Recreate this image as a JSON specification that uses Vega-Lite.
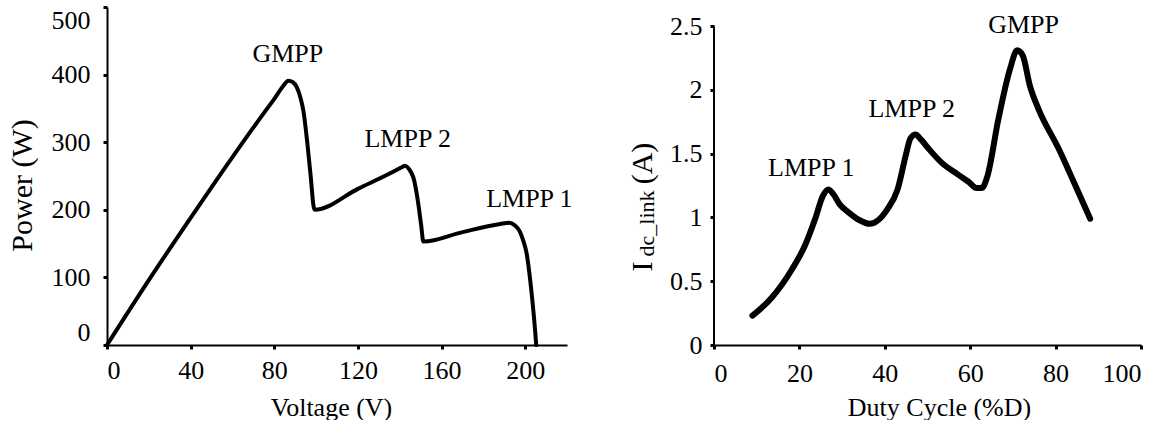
{
  "$schema": "https://vega.github.io/schema/vega-lite/v6.json",
  "padding": {"left": 7, "top": 5, "right": 5, "bottom": 0},
  "background": "white",
  "config": {
    "view": {"stroke": null},
    "font": "Liberation Serif",
    "axis": {
      "grid": false,
      "domainColor": "black",
      "domainWidth": 2,
      "tickColor": "black",
      "tickWidth": 3,
      "tickSize": 4,
      "labelColor": "black",
      "labelFont": "Liberation Serif",
      "labelFontSize": 26,
      "titleFont": "Liberation Serif",
      "titleFontWeight": "normal",
      "titleColor": "black",
      "titleFontSize": 26
    },
    "text": {"font": "Liberation Serif", "fontSize": 26, "color": "black"}
  },
  "datasets": {
    "pv": [
      {"voltage": 0, "power": 0},
      {"voltage": 20, "power": 96},
      {"voltage": 40, "power": 188},
      {"voltage": 60, "power": 278},
      {"voltage": 75, "power": 343},
      {"voltage": 80, "power": 364},
      {"voltage": 84, "power": 382},
      {"voltage": 86.7, "power": 391},
      {"voltage": 88.8, "power": 389},
      {"voltage": 90.8, "power": 381},
      {"voltage": 92.5, "power": 366},
      {"voltage": 94, "power": 345},
      {"voltage": 95.9, "power": 296},
      {"voltage": 97.5, "power": 247},
      {"voltage": 98.8, "power": 205},
      {"voltage": 99.4, "power": 200},
      {"voltage": 120, "power": 231},
      {"voltage": 138, "power": 258},
      {"voltage": 141, "power": 263},
      {"voltage": 142.5, "power": 265},
      {"voltage": 144, "power": 262},
      {"voltage": 145.5, "power": 255},
      {"voltage": 146.8, "power": 245},
      {"voltage": 148, "power": 226},
      {"voltage": 149.2, "power": 202},
      {"voltage": 150.3, "power": 176},
      {"voltage": 151.3, "power": 153},
      {"voltage": 170, "power": 167},
      {"voltage": 188, "power": 179},
      {"voltage": 192.3, "power": 181},
      {"voltage": 195, "power": 177},
      {"voltage": 197.4, "power": 168},
      {"voltage": 199, "power": 155},
      {"voltage": 200.6, "power": 137},
      {"voltage": 203, "power": 79},
      {"voltage": 204.3, "power": 38},
      {"voltage": 205.3, "power": 0}
    ],
    "pvLabels": [
      {"voltage": 86.5, "power": 430, "label": "GMPP"},
      {"voltage": 143.8, "power": 305, "label": "LMPP 2"},
      {"voltage": 202, "power": 216, "label": "LMPP 1"}
    ],
    "duty": [
      {"duty": 9, "current": 0.23},
      {"duty": 13.5, "current": 0.37},
      {"duty": 18.2, "current": 0.59},
      {"duty": 21.3, "current": 0.78},
      {"duty": 23.7, "current": 0.99},
      {"duty": 25.5, "current": 1.17},
      {"duty": 26.8, "current": 1.22},
      {"duty": 28, "current": 1.18},
      {"duty": 29.5, "current": 1.1},
      {"duty": 31.5, "current": 1.04},
      {"duty": 34, "current": 0.98},
      {"duty": 36.5, "current": 0.95},
      {"duty": 38.5, "current": 0.98},
      {"duty": 40.5, "current": 1.06},
      {"duty": 43, "current": 1.22},
      {"duty": 45, "current": 1.5},
      {"duty": 46, "current": 1.62},
      {"duty": 47.2, "current": 1.65},
      {"duty": 48.5, "current": 1.61},
      {"duty": 50.5, "current": 1.53},
      {"duty": 53.3, "current": 1.43},
      {"duty": 57, "current": 1.34},
      {"duty": 59.6, "current": 1.28},
      {"duty": 61.5, "current": 1.23},
      {"duty": 62.7, "current": 1.23},
      {"duty": 64, "current": 1.32},
      {"duty": 66.6, "current": 1.77},
      {"duty": 69.3, "current": 2.16},
      {"duty": 71, "current": 2.31},
      {"duty": 72.3, "current": 2.27},
      {"duty": 74, "current": 2.03},
      {"duty": 76, "current": 1.85},
      {"duty": 80.7, "current": 1.54},
      {"duty": 84.5, "current": 1.26},
      {"duty": 88.1, "current": 0.99}
    ],
    "dutyLabels": [
      {"duty": 22.8, "current": 1.39, "label": "LMPP 1"},
      {"duty": 46.3, "current": 1.85, "label": "LMPP 2"},
      {"duty": 72.5, "current": 2.51, "label": "GMPP"}
    ]
  },
  "spacing": 52,
  "hconcat": [
    {
      "width": 460,
      "height": 338,
      "layer": [
        {
          "data": {"name": "pv"},
          "mark": {"type": "line", "color": "black", "strokeWidth": 4, "interpolate": "monotone", "strokeCap": "round", "strokeJoin": "round"},
          "encoding": {
            "x": {
              "field": "voltage", "type": "quantitative",
              "scale": {"domain": [0, 220], "nice": false},
              "axis": {"values": [0, 40, 80, 120, 160, 200], "title": "Voltage (V)", "titleX": 224, "titleY": 62, "titleBaseline": "middle", "labelPadding": 8}
            },
            "y": {
              "field": "power", "type": "quantitative",
              "scale": {"domain": [0, 500], "nice": false},
              "axis": {"values": [0, 100, 200, 300, 400, 500], "title": "Power (W)", "titleFontSize": 30, "titleX": -85, "titleY": 178, "titleBaseline": "middle", "titleAlign": "center", "labelPadding": 13, "labelFlush": true}
            }
          }
        },
        {
          "data": {"name": "pvLabels"},
          "mark": {"type": "text", "baseline": "middle", "align": "center"},
          "encoding": {
            "x": {"field": "voltage", "type": "quantitative"},
            "y": {"field": "power", "type": "quantitative"},
            "text": {"field": "label", "type": "nominal"}
          }
        }
      ]
    },
    {
      "width": 427,
      "height": 338,
      "layer": [
        {
          "data": {"name": "duty"},
          "mark": {"type": "line", "color": "black", "strokeWidth": 6, "interpolate": "monotone", "strokeCap": "round", "strokeJoin": "round"},
          "encoding": {
            "x": {
              "field": "duty", "type": "quantitative",
              "scale": {"domain": [0, 100], "nice": false},
              "axis": {"values": [0, 20, 40, 60, 80, 100], "title": "Duty Cycle (%D)", "titleX": 225, "titleY": 62, "titleBaseline": "middle", "labelPadding": 11}
            },
            "y": {
              "field": "current", "type": "quantitative",
              "scale": {"domain": [0, 2.65], "nice": false},
              "axis": {"values": [0, 0.5, 1, 1.5, 2, 2.5], "format": "~g", "domain": false, "title": "I", "titleFontSize": 30, "titleX": -72, "titleY": 259, "titleBaseline": "middle", "titleAlign": "center", "labelPadding": 8}
            }
          }
        },
        {
          "data": {"name": "dutyLabels"},
          "mark": {"type": "text", "baseline": "middle", "align": "center"},
          "encoding": {
            "x": {
              "field": "duty", "type": "quantitative",
              "scale": {"domain": [0, 100], "nice": false},
              "axis": {"orient": "bottom", "domain": false, "ticks": false, "labels": false, "title": "(A)", "titleAngle": 270, "titleFontSize": 30, "titleX": -72, "titleY": -182, "titleBaseline": "middle", "titleAlign": "center"}
            },
            "y": {
              "field": "current", "type": "quantitative",
              "scale": {"domain": [0, 2.65], "nice": false},
              "axis": {"orient": "left", "domain": false, "ticks": false, "labels": false, "title": "dc_link", "titleFontSize": 22, "titleX": -68, "titleY": 216, "titleBaseline": "middle", "titleAlign": "center"}
            },
            "text": {"field": "label", "type": "nominal"}
          }
        },
        {
          "data": {"values": [{}]},
          "mark": {"type": "rule", "color": "black", "strokeWidth": 2},
          "encoding": {
            "x": {"datum": 0, "type": "quantitative", "scale": {"domain": [0, 100], "nice": false}, "axis": null},
            "y": {"datum": 0, "type": "quantitative", "scale": {"domain": [0, 2.65], "nice": false}, "axis": null},
            "y2": {"datum": 2.5}
          }
        }
      ],
      "resolve": {
        "scale": {"x": "independent", "y": "independent"},
        "axis": {"x": "independent", "y": "independent"}
      }
    }
  ]
}
